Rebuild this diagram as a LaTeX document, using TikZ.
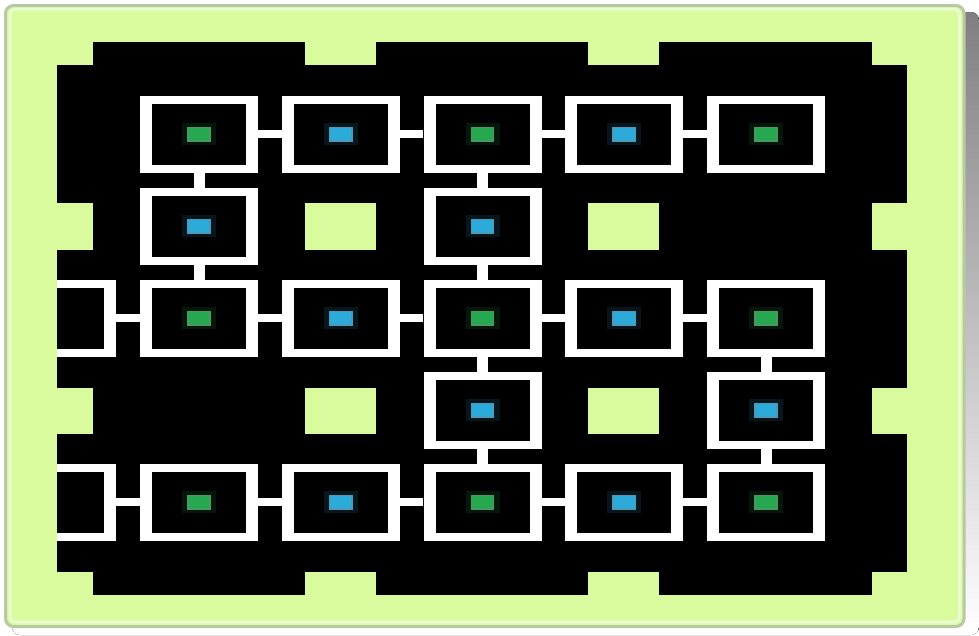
\documentclass[tikz,border=0pt]{standalone}
\usepackage{tikz}
\definecolor{panel}{RGB}{218,250,158}
\definecolor{rim}{RGB}{184,200,166}
\definecolor{glint}{RGB}{234,252,210}
\definecolor{shade}{RGB}{230,230,244}
\definecolor{ledG}{RGB}{38,168,80}
\definecolor{ledB}{RGB}{44,170,218}
\newcommand{\hollow}{\fill[black] ([shift={(12pt,-8pt)}]path picture bounding box.north west)
  rectangle ([shift={(-12pt,8pt)}]path picture bounding box.south east);}

\begin{document}
\begin{tikzpicture}[x=1pt, y=-1pt,
  frame/.style={rectangle, fill=white, minimum width=118pt, minimum height=77pt, inner sep=0pt,
                path picture={\hollow}},
  cell/.style={frame, path picture={\hollow
     \fill[#1!13!black] ([shift={(-17pt,-11pt)}]path picture bounding box.center)
       rectangle ([shift={(17pt,11pt)}]path picture bounding box.center);
     \filldraw[fill=#1, draw=#1!60!gray, line width=1.5pt]
       ([shift={(-11.2pt,-6.7pt)}]path picture bounding box.center)
       rectangle ([shift={(11.2pt,6.7pt)}]path picture bounding box.center);}},
  wire/.style={draw=white, line width=8pt},
  via/.style={draw=white, line width=11pt}]
  \useasboundingbox (0,0) rectangle (979,635);

  % board
  \fill[shade, rounded corners=8pt] (12,12) rectangle (979,635);
  \filldraw[fill=panel, draw=rim, line width=3pt, rounded corners=8pt] (5.5,5.5) rectangle (964,626.5);
  \draw[glint, line width=3pt, rounded corners=6pt] (10,9) rectangle (959.5,622);

  % black die with notches and holes
  \fill[black] (57,65) rectangle (907,572);
  \fill[black] (93,42) rectangle (872,595);
  \fill[panel] (305,42) rectangle (376,65);  \fill[panel] (588,42) rectangle (659,65);
  \fill[panel] (305,572) rectangle (376,595); \fill[panel] (588,572) rectangle (659,595);
  \fill[panel] (57,203) rectangle (93,250);   \fill[panel] (57,388) rectangle (93,434);
  \fill[panel] (872,203) rectangle (907,250); \fill[panel] (872,388) rectangle (907,434);
  \fill[panel] (305,203) rectangle (376,250); \fill[panel] (588,203) rectangle (659,250);
  \fill[panel] (305,388) rectangle (376,434); \fill[panel] (588,388) rectangle (659,434);

  \begin{scope}
  \clip (57,42) rectangle (907,595);
  % row 1
  \node[cell=ledG] (c11) at (199,134.3) {};
  \node[cell=ledB] (c12) at (340.75,134.3) {};
  \node[cell=ledG] (c13) at (482.5,134.3) {};
  \node[cell=ledB] (c14) at (624.25,134.3) {};
  \node[cell=ledG] (c15) at (766,134.3) {};
  % row 2
  \node[cell=ledB] (c21) at (199,226.3) {};
  \node[cell=ledB] (c23) at (482.5,226.3) {};
  % row 3
  \node[frame]     (c30) at (57.25,318.3) {};
  \node[cell=ledG] (c31) at (199,318.3) {};
  \node[cell=ledB] (c32) at (340.75,318.3) {};
  \node[cell=ledG] (c33) at (482.5,318.3) {};
  \node[cell=ledB] (c34) at (624.25,318.3) {};
  \node[cell=ledG] (c35) at (766,318.3) {};
  % row 4
  \node[cell=ledB] (c43) at (482.5,410.3) {};
  \node[cell=ledB] (c45) at (766,410.3) {};
  % row 5
  \node[frame]     (c50) at (57.25,502.3) {};
  \node[cell=ledG] (c51) at (199,502.3) {};
  \node[cell=ledB] (c52) at (340.75,502.3) {};
  \node[cell=ledG] (c53) at (482.5,502.3) {};
  \node[cell=ledB] (c54) at (624.25,502.3) {};
  \node[cell=ledG] (c55) at (766,502.3) {};

  % horizontal links
  \draw[wire] (c11) -- (c12); \draw[wire] (c12) -- (c13);
  \draw[wire] (c13) -- (c14); \draw[wire] (c14) -- (c15);
  \draw[wire] (c30) -- (c31); \draw[wire] (c31) -- (c32); \draw[wire] (c32) -- (c33);
  \draw[wire] (c33) -- (c34); \draw[wire] (c34) -- (c35);
  \draw[wire] (c50) -- (c51); \draw[wire] (c51) -- (c52); \draw[wire] (c52) -- (c53);
  \draw[wire] (c53) -- (c54); \draw[wire] (c54) -- (c55);
  % vertical links
  \draw[via] (c11) -- (c21); \draw[via] (c21) -- (c31);
  \draw[via] (c13) -- (c23); \draw[via] (c23) -- (c33);
  \draw[via] (c33) -- (c43); \draw[via] (c43) -- (c53);
  \draw[via] (c35) -- (c45); \draw[via] (c45) -- (c55);
  \end{scope}
\end{tikzpicture}
\end{document}
